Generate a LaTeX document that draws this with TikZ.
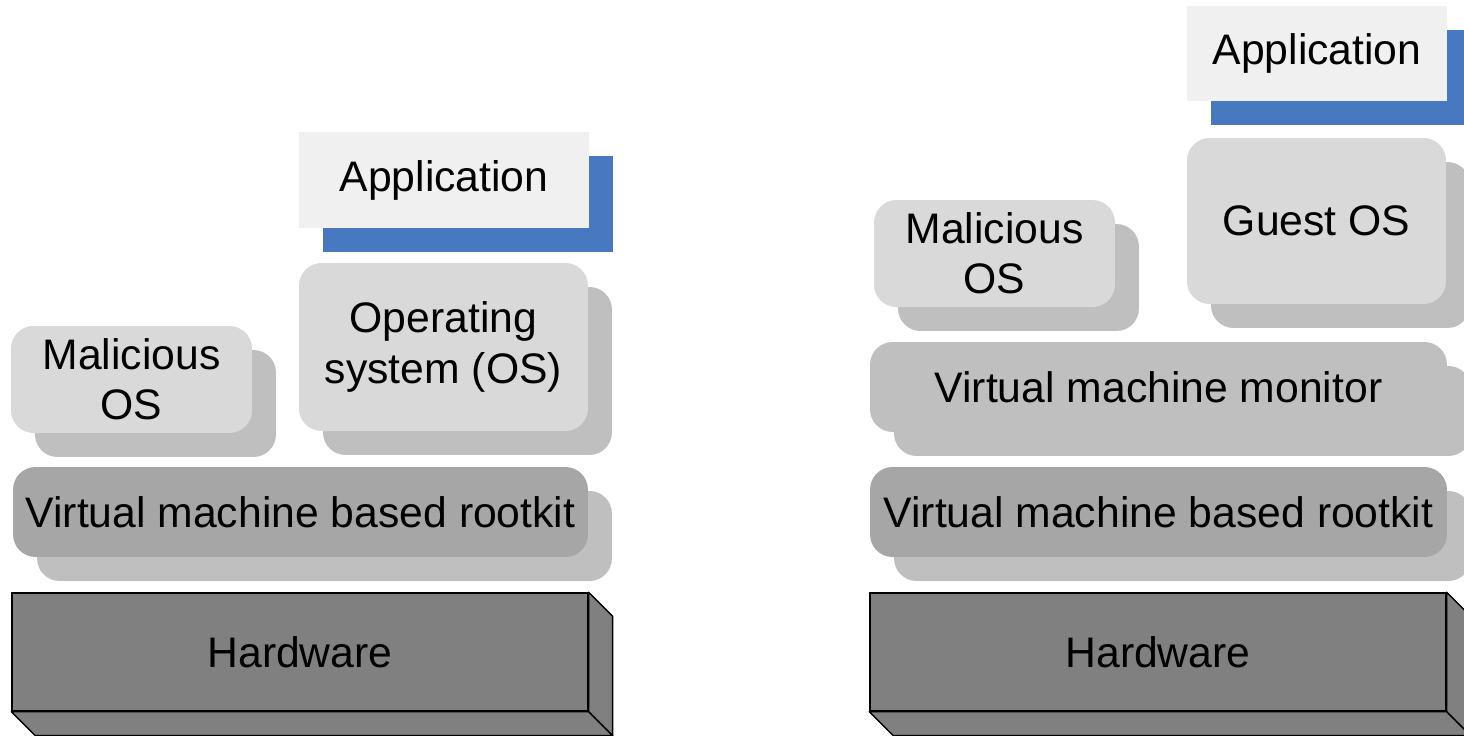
\documentclass[tikz,border=0pt]{standalone}
\usepackage{fontspec}
\setmainfont{Liberation Sans}
\usepackage{xcolor}
\usetikzlibrary{shadows}

\definecolor{layerLight}{HTML}{D9D9D9}
\definecolor{layerShade}{HTML}{BFBFBF}
\definecolor{layerDark}{HTML}{A6A6A6}
\definecolor{appFill}{HTML}{F0F0F0}
\definecolor{appBlue}{HTML}{4778C0}
\definecolor{hwFill}{HTML}{808080}

\tikzset{
	lay/.style = {inner sep = 0pt, align = center, font = \fontsize{24.3}{28.5}\selectfont},
	layershadow/.style = {drop shadow = {shadow xshift = 0.48cm, shadow yshift = -0.48cm, opacity = 1, fill = #1}},
	layer/.style = {lay, rounded corners = 0.45cm, fill = layerLight, layershadow = layerShade},
	vmmlayer/.style = {lay, rounded corners = 0.45cm, fill = layerShade, layershadow = layerShade},
	rootlayer/.style = {lay, rounded corners = 0.45cm, fill = layerDark, layershadow = layerShade},
	applayer/.style = {lay, fill = appFill, layershadow = appBlue},
	hwlayer/.style = {lay, fill = hwFill, draw = black, line width = 0.8pt},
	hwface/.style = {fill = hwFill, draw = black, line width = 0.8pt, line join = round}
}

\begin{document}
\begin{tikzpicture}[x = 0.02cm, y = -0.02cm]
	\useasboundingbox (0,0) rectangle (1464,736);

	% left stack
	\begin{scope}
		\node [hwlayer, minimum width = 11.52cm, minimum height = 2.36cm] (hwL) at (300,652) {Hardware};
		\draw [hwface] (hwL.north east) -- ++(24,24) -- ([shift = {(24,24)}]hwL.south east) -- (hwL.south east) -- cycle;
		\draw [hwface] (hwL.south west) -- (hwL.south east) -- ++(24,24) -- ([shift = {(24,24)}]hwL.south west) -- cycle;

		\node [rootlayer, minimum width = 11.5cm, minimum height = 1.8cm] (rkL) at (300.5,512) {Virtual machine based rootkit};
		\node [layer, minimum width = 4.82cm, minimum height = 2.14cm] (malL) at (131.5,379.5) {Malicious\\OS};
		\node [layer, minimum width = 5.78cm, minimum height = 3.36cm] (osL) at (443.5,347) {Operating\\system (OS)};
		\node [applayer, minimum width = 5.8cm, minimum height = 1.92cm] (appL) at (444,180) {Application};
	\end{scope}

	% right stack
	\begin{scope}
		\node [hwlayer, minimum width = 11.52cm, minimum height = 2.36cm] (hwR) at (1158,652) {Hardware};
		\draw [hwface] (hwR.north east) -- ++(24,24) -- ([shift = {(24,24)}]hwR.south east) -- (hwR.south east) -- cycle;
		\draw [hwface] (hwR.south west) -- (hwR.south east) -- ++(24,24) -- ([shift = {(24,24)}]hwR.south west) -- cycle;

		\node [rootlayer, minimum width = 11.54cm, minimum height = 1.8cm] (rkR) at (1158.5,512) {Virtual machine based rootkit};
		\node [vmmlayer, minimum width = 11.54cm, minimum height = 1.8cm] (vmmR) at (1158.5,387) {Virtual machine monitor};
		\node [layer, minimum width = 4.82cm, minimum height = 2.14cm] (malR) at (994.5,253.5) {Malicious\\OS};
		\node [layer, minimum width = 5.18cm, minimum height = 3.32cm] (guestR) at (1316.5,221) {Guest OS};
		\node [applayer, minimum width = 5.2cm, minimum height = 1.9cm] (appR) at (1317,53.5) {Application};
	\end{scope}
\end{tikzpicture}
\end{document}
